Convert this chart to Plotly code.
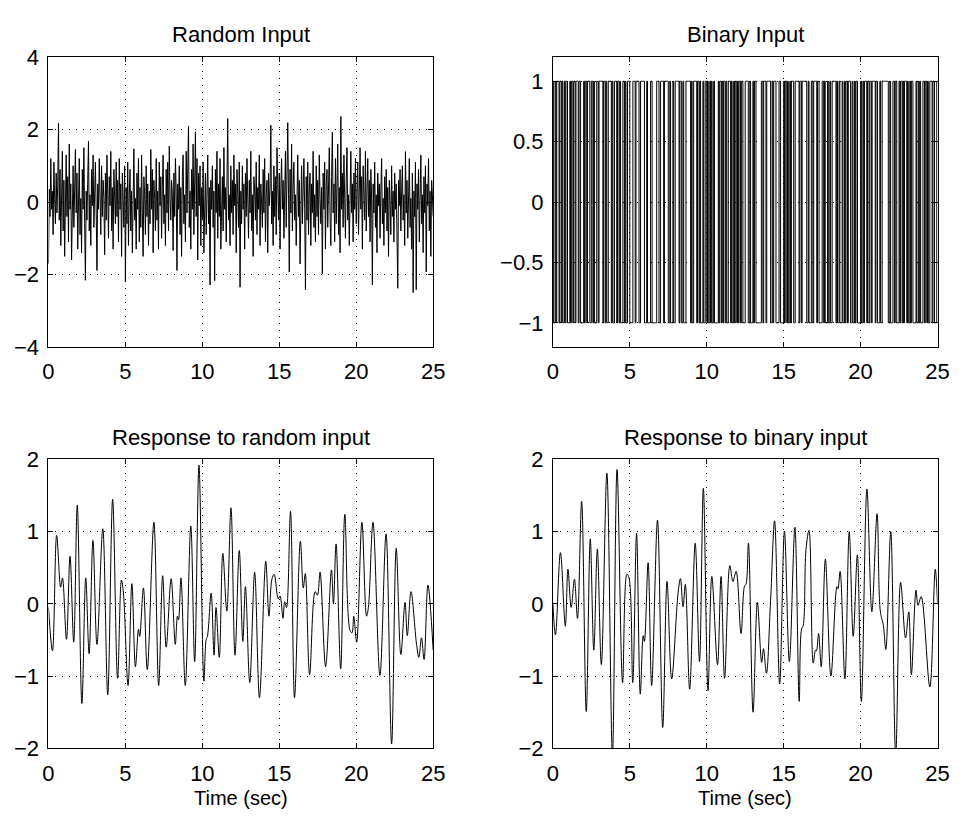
import plotly.graph_objects as go

# ---- data -------------------------------------------------------------
DT = 0.05  # sample interval of the input signals (s)

random_input = [
    -1.70, 0.35, -0.40, 1.20, -0.20, 0.30, -0.90, 1.10, 0.10, -0.60,
    0.80, -0.30, 0.45, 2.17, -0.50, 0.90, -1.20, 0.20, 1.40, -0.80,
    0.60, -1.50, 0.10, 1.30, -0.40, 0.70, -1.10, 1.60, -0.20, 0.50,
    -1.60, 0.30, 1.00, -0.70, 0.20, 1.45, -0.30, 0.80, -1.30, 0.40,
    1.20, -0.90, 0.10, -1.40, 0.90, -0.20, 1.50, -0.60, -2.16, 0.30,
    -0.50, 0.60, 1.68, -0.80, 0.20, -1.20, 0.90, -0.10, 1.30, -0.70,
    0.40, 1.10, -0.30, -1.89, 0.50, -0.20, 1.20, 0.30, -0.90, 1.00,
    -0.40, 0.60, 0.10, -1.46, 0.80, -0.50, 1.30, 0.20, -1.00, 0.70,
    -0.10, 1.40, -0.80, 0.40, -1.30, 0.90, 0.10, -0.60, 1.10, -0.40,
    0.60, -1.10, 1.20, -0.20, 0.50, -1.50, 0.80, 0.20, -0.70, 1.00,
    -2.20, 0.40, -0.60, 1.10, -1.20, 0.20, 0.90, -0.80, 0.30, -1.40,
    0.60, 1.47, -0.50, 0.10, -1.30, 0.80, -0.20, 1.20, -1.10, 0.40,
    -0.70, 1.30, -0.30, -1.50, 0.70, 0.20, -0.90, 1.00, -0.40, 0.50,
    -1.20, 0.30, -0.60, 1.45, -0.20, 0.90, -1.40, 0.60, 0.10, -0.80,
    1.20, -0.50, 0.30, -1.30, 1.10, -0.10, 0.70, -1.00, 0.40, 1.30,
    -0.60, 0.20, -1.20, 0.90, -0.30, 1.10, -0.80, 1.54, 0.10, -0.50,
    0.60, 0.20, -1.34, 0.80, -0.40, 1.20, 0.30, -1.89, 0.50, -0.20,
    1.00, -0.90, 0.40, -1.50, 0.70, 1.30, -0.60, 0.20, -1.10, 1.40,
    -0.30, 0.60, 2.10, -0.70, 0.30, -1.30, 0.90, -0.20, 1.60, -0.90,
    0.50, 1.94, -0.40, 1.20, -1.60, 0.80, -0.10, 1.00, -1.20, 0.40,
    -0.50, 1.10, -1.40, 0.30, 0.80, -0.90, 0.20, 1.30, -0.60, 0.40,
    -2.29, 0.60, -0.20, 1.00, -0.70, 0.30, -2.17, 0.90, -0.30, 1.40,
    -1.00, 0.50, -0.40, 1.20, -1.30, 0.10, 0.70, -0.80, 1.50, -0.20,
    0.40, -1.10, 0.80, 2.30, -0.50, 0.20, -1.20, 1.00, -0.30, 0.60,
    -0.90, 1.30, -0.10, 0.50, -1.40, 0.90, 0.20, -0.70, 1.10, -2.35,
    0.30, -0.60, 1.00, -0.20, 0.50, -1.30, 0.80, -0.40, 1.20, 0.10,
    -1.00, 0.60, -0.30, 1.40, -0.80, 0.20, -1.50, 0.70, 0.30, -0.50,
    1.10, -0.90, 0.40, -0.20, 1.30, -1.20, 0.50, 0.00, -0.70, 0.90,
    -0.30, 1.20, -1.10, 0.20, 0.60, -1.40, 0.80, -0.10, 0.40, 2.12,
    -0.60, 0.30, -1.20, 1.00, -0.40, 0.70, -0.90, 1.50, 0.10, -0.50,
    0.80, -1.30, 0.40, 1.20, -0.20, 0.60, -1.00, 0.30, 1.40, -0.70,
    0.50, 2.19, 0.20, -1.93, 0.90, -0.30, 1.60, -0.80, 0.40, 1.10,
    -0.50, 0.20, -1.20, 0.80, 1.30, -0.40, 0.60, -1.71, 0.30, 1.00,
    -0.60, 0.40, 1.20, -0.20, -2.42, 0.70, -0.50, 1.10, -0.90, 0.30,
    0.80, -1.20, 0.50, -0.30, 1.40, -0.70, 0.20, -1.10, 1.00, -0.40,
    0.60, -0.90, 1.30, 0.10, -0.60, 0.40, -1.98, 0.80, -0.20, 1.10,
    -1.30, 0.50, 0.90, -0.70, 0.20, 1.50, -0.40, -1.20, 0.70, 1.93,
    -0.30, 0.50, -1.10, 1.20, -0.60, 0.30, 1.60, -0.90, 0.40, -1.40,
    2.36, -0.20, 0.80, -0.70, 1.30, 0.10, -1.00, 0.60, 1.50, -0.50,
    0.20, -1.20, 0.90, 1.40, -0.30, 0.50, -1.10, 0.80, -0.20, 1.20,
    -0.60, 0.30, 1.10, -0.90, 0.40, 1.50, -0.20, 0.70, -1.30, 1.00,
    0.20, -0.50, 1.40, -0.80, 0.30, 1.20, -0.40, 0.60, -1.10, 0.90,
    0.10, -2.29, 0.50, -0.30, 1.10, -0.70, 0.20, -1.40, 0.80, -0.10,
    0.50, -1.00, 0.30, 1.20, -0.60, 0.10, -1.20, 0.70, -0.30, 0.90,
    -0.80, 0.40, -1.50, 0.60, 0.00, -0.90, 1.00, -0.40, 0.30, -1.10,
    0.80, -0.20, 0.50, -1.30, -2.38, 0.60, -0.10, 0.90, -0.80, 0.30,
    1.00, -0.50, 0.20, -1.20, 1.39, -0.30, 0.60, -1.00, 0.40, 1.20,
    -0.70, 0.10, -1.30, 0.80, -2.50, 0.30, -0.40, 1.10, -2.42, 0.50,
    -0.20, 0.90, -1.10, 0.40, 1.30, -0.60, 0.20, -1.40, 0.70, -0.30,
    1.00, -1.93, 0.50, -0.10, 1.20, -0.80, 0.30, -1.50, 0.60, 0.20,
    -0.40,
]

# binary input: level starts at +1 and flips after each run (run lengths in samples)
binary_start = 1
binary_runs = [
    1, 2, 1, 1, 3, 1, 2, 1, 1, 2, 1, 1, 2, 3, 1, 1, 2, 1, 2, 1,
    3, 1, 2, 4, 1, 1, 2, 1, 3, 2,
    2, 1, 1, 3, 2, 1, 5, 1, 2, 1, 1, 2, 4, 1, 1, 2, 3, 1, 2, 1, 1, 3, 2, 1, 1, 2, 3,
    4, 3, 1, 4, 2, 5, 3, 1, 4, 2, 6, 3, 2, 4, 1, 5,
    2, 1, 3, 1, 2, 5, 1, 2, 2, 1, 3, 6, 1, 1, 2, 4, 1, 2, 1, 1, 3, 1, 2, 2,
    1, 1, 2, 1, 1, 1, 2, 1, 5, 1, 1, 2, 1, 1, 1, 2, 1, 1, 2, 3, 1, 1, 2, 1, 1, 2,
    1, 1, 1, 2, 1, 2, 3,
    4, 2, 1, 3, 1, 1, 2, 7, 2, 1, 3, 1, 5, 2, 1, 1, 3, 4, 2, 4,
    1, 1, 2, 1, 1, 2, 1, 1, 3, 2, 5, 1, 2, 1, 6, 2, 1, 3, 2, 1, 4, 1, 2, 4,
    2, 1, 1, 3, 1, 2, 1, 2, 5, 1, 1, 2, 1, 3, 1, 2, 1, 1, 2, 1, 3, 2, 1, 2, 1, 1, 2, 4,
    1, 2, 1, 1, 3, 1, 2, 1, 2, 1, 4, 1, 2, 3, 1, 2, 8, 2, 1, 3, 2, 1, 2, 3,
    1, 1, 2, 1, 1, 1, 3, 1, 1, 2, 1, 1, 2, 4, 1, 2, 1, 1, 1, 3, 2, 1, 2, 1, 1, 2, 3,
    1, 2, 3, 2,
]

# simulated outputs, given as (time, value) turning points
resp_random_t = [
    0, 0.26, 0.53, 0.79, 0.91, 1.17, 1.40, 1.64, 1.87, 2.17, 2.42, 2.64, 2.89, 3.15,
    3.53, 3.85, 4.17, 4.49, 4.74, 4.87, 5.17, 5.42, 5.65, 5.85, 5.93, 6.17, 6.42,
    6.85, 7.16, 7.42, 7.65, 7.97, 8.24, 8.38, 8.45, 8.61, 8.89, 9.25, 9.50, 9.78,
    10.10, 10.25, 10.33, 10.57, 10.76, 10.89, 11.10, 11.33, 11.59, 11.86, 12.12,
    12.40, 12.63, 12.80, 13.08, 13.40, 13.71, 14.12, 14.33, 14.52, 14.67, 14.93,
    15.05, 15.24, 15.35, 15.47, 15.73, 15.99, 16.37, 16.56, 16.69, 16.97, 17.33,
    17.48, 17.65, 18.01, 18.39, 18.52, 18.69, 18.99, 19.26, 19.60, 19.73, 19.84,
    20.03, 20.37, 20.67, 20.79, 21.09, 21.54, 21.94, 22.30, 22.60, 22.90, 23.17,
    23.32, 23.56, 23.92, 24.07, 24.24, 24.41, 24.66, 25.0,
]
resp_random_y = [
    -0.05, -0.65, 0.95, 0.23, 0.36, -0.49, 0.66, -0.53, 1.37, -1.38, 0.36, -0.69, 0.88, -0.56,
    1.04, -1.26, 1.45, -1.03, 0.33, 0.15, -1.13, 0.28, -0.87, -0.35, -0.45, 0.22, -0.91,
    1.13, -1.13, 0.39, -0.60, 0.35, -0.56, -0.17, -0.22, 0.36, -1.13, 1.08, -0.80, 1.92,
    -1.07, -0.49, -0.45, 0.15, -0.71, -0.05, -0.74, 0.70, -0.10, 1.33, -0.71,
    0.74, -0.52, 0.24, -1.09, 0.44, -1.30, 0.59, -0.17, 0.34, 0.41, 0.07,
    0.11, -0.20, 0.03, -0.05, 1.28, -1.30, 0.87, 0.22, 0.42, -0.98, 0.17,
    0.12, 0.44, -0.87, 0.47, 0.00, 0.83, -0.90, 1.24, -0.37, -0.40, -0.17,
    -0.53, 1.13, -0.17, -0.05, 1.13, -0.99, 0.97, -1.94, 0.77, -0.70, 0.02,
    -0.44, 0.17, -0.56, -0.74, -0.47, -0.77, 0.26, -0.64,
]

resp_binary_t = [
    0, 0.17, 0.49, 0.81, 0.98, 1.19, 1.40, 1.60, 1.87, 2.17, 2.43, 2.66, 2.89, 3.15,
    3.51, 3.87, 4.17, 4.53, 4.81, 4.95, 5.19, 5.44, 5.68, 5.87, 5.95, 6.19, 6.42,
    6.80, 7.14, 7.42, 7.72, 8.14, 8.29, 8.46, 8.61, 8.89, 9.25, 9.53, 9.78, 10.08,
    10.33, 10.70, 10.93, 11.16, 11.50, 11.70, 11.91, 12.23, 12.46, 12.55, 12.71,
    13.01, 13.29, 13.57, 13.69, 13.88, 14.15, 14.41, 14.74, 15.05, 15.37, 15.73,
    16.01, 16.16, 16.27, 16.45, 16.65, 16.92, 17.07, 17.13, 17.27, 17.44, 17.71,
    18.07, 18.46, 18.53, 18.67, 18.98, 19.26, 19.52, 19.79, 20.05, 20.41, 20.73,
    21.07, 21.28, 21.48, 21.64, 21.96, 22.28, 22.60, 22.92, 23.13, 23.30, 23.60,
    23.73, 23.94, 24.50, 24.85, 25.0,
]
resp_binary_y = [
    0.00, -0.43, 0.71, -0.31, 0.48, -0.05, 0.34, -0.20, 1.42, -1.49, 0.90, -0.64, 0.76, -0.84,
    1.81, -2.10, 1.86, -1.09, 0.41, 0.36, -1.09, 0.98, -1.25, -0.44, -0.52, 0.57, -1.13,
    1.16, -1.71, 0.31, -1.04, 0.16, 0.35, -0.04, 0.27, -1.18, 0.84, -0.80, 1.60, -1.20,
    0.38, -0.84, 0.38, -1.03, 0.53, 0.31, 0.45, -0.41, 0.25, 0.27, 0.84,
    -1.50, 0.02, -0.81, -0.62, -0.96, 0.05, 1.15, -1.11, 1.01, -0.80, 1.06,
    -1.35, -0.35, -0.30, 0.75, 1.02, -0.82, -0.64, -0.65, -0.41, -0.87, 0.62,
    -1.00, 0.24, 0.21, 0.45, -1.04, 1.00, -0.45, 0.68, -1.35, 1.59, -0.11,
    1.25, -0.10, -0.30, -0.63, 1.00, -2.10, 0.30, -0.47, -0.11, -0.98, 0.19,
    -0.02, 0.10, -1.15, 0.48, 0.00,
]

titles = ["Random Input", "Binary Input", "Response to random input", "Response to binary input"]
x_label = "Time (sec)"
x_ticks = [0, 5, 10, 15, 20, 25]

# ---- figure -----------------------------------------------------------
W, H = 962, 820
FONT = "Liberation Sans, Arial, Helvetica, sans-serif"
FS = 22

t_in = [round(i * DT, 4) for i in range(len(random_input))]
binary_input = []
level = binary_start
for run in binary_runs:
    binary_input.extend([level] * run)
    level = -level
t_bin = [round(i * DT, 4) for i in range(len(binary_input))]

fig = go.Figure()
fig.add_trace(go.Scatter(x=t_in, y=random_input, mode="lines",
                         line=dict(color="black", width=1), xaxis="x", yaxis="y"))
fig.add_trace(go.Scatter(x=t_bin, y=binary_input, mode="lines",
                         line=dict(color="black", width=1, shape="hv"), xaxis="x2", yaxis="y2"))
fig.add_trace(go.Scatter(x=resp_random_t, y=resp_random_y, mode="lines",
                         line=dict(color="black", width=1, shape="spline", smoothing=1.0),
                         xaxis="x3", yaxis="y3"))
fig.add_trace(go.Scatter(x=resp_binary_t, y=resp_binary_y, mode="lines",
                         line=dict(color="black", width=1, shape="spline", smoothing=1.0),
                         xaxis="x4", yaxis="y4"))

# axes boxes in pixels: columns (left, right), rows (top, bottom)
cols = [(43.3, 435.3), (557.3, 949.3)]
rows = [(46.5, 345.5), (461.5, 759.5)]


def xdom(c):
    return [cols[c][0] / W, cols[c][1] / W]


def ydom(r):
    return [1 - rows[r][1] / H, 1 - rows[r][0] / H]


tick_font = dict(family=FONT, size=FS, color="black")
axis_style = dict(
    showline=True, linecolor="black", linewidth=1, mirror="ticks",
    ticks="inside", ticklen=5, tickcolor="black", tickwidth=1,
    showgrid=True, gridcolor="black", gridwidth=1, griddash="1px,6px",
    zeroline=False, tickfont=tick_font,
)

y_specs = [
    dict(range=[-4, 4], tickvals=[-4, -2, 0, 2, 4]),
    dict(range=[-1.2, 1.2], tickvals=[-1, -0.5, 0, 0.5, 1]),
    dict(range=[-2, 2], tickvals=[-2, -1, 0, 1, 2]),
    dict(range=[-2, 2], tickvals=[-2, -1, 0, 1, 2]),
]

layout = dict(
    width=W, height=H, margin=dict(l=0, r=0, t=0, b=0),
    paper_bgcolor="white", plot_bgcolor="white", showlegend=False,
    font=dict(family=FONT, size=FS, color="black"),
)
annotations = []
for k in range(4):
    r, c = divmod(k, 2)
    sx = "" if k == 0 else str(k + 1)
    layout["xaxis" + sx] = dict(axis_style, domain=xdom(c), range=[0, 25], tickvals=x_ticks,
                                anchor="y" + sx, ticklabelstandoff=5)
    layout["yaxis" + sx] = dict(axis_style, domain=ydom(r), anchor="x" + sx,
                                ticklabelstandoff=4, **y_specs[k])
    xc = (xdom(c)[0] + xdom(c)[1]) / 2
    annotations.append(dict(
        text=titles[k], xref="paper", yref="paper", x=xc, y=1 - (rows[r][0] - 23) / H,
        xanchor="center", yanchor="middle", showarrow=False, font=tick_font,
    ))
    if r == 1:
        annotations.append(dict(
            text=x_label, xref="paper", yref="paper", x=xc, y=0, yshift=-4,
            xanchor="center", yanchor="bottom", showarrow=False,
            font=dict(family=FONT, size=20, color="black"),
        ))
layout["annotations"] = annotations
fig.update_layout(**layout)

fig.write_html("out.html")
